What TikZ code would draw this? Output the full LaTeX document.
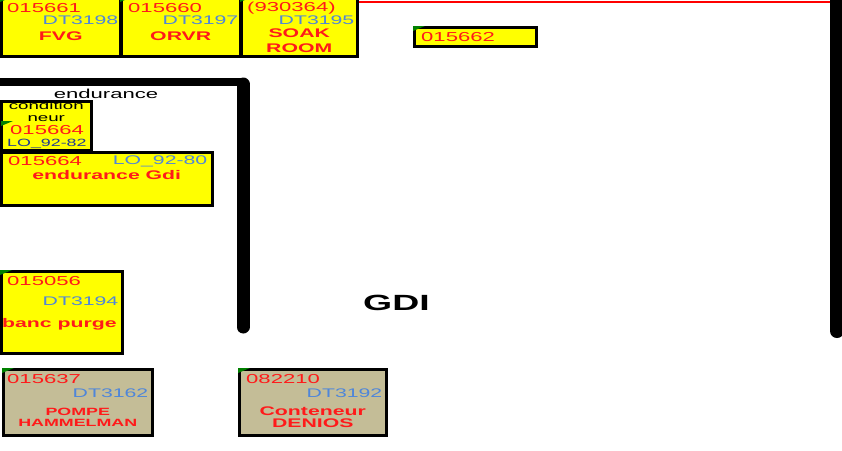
\documentclass[tikz,border=0pt]{standalone}
\usepackage{fontspec}
\setmainfont[FakeStretch=1.7]{Liberation Sans}
\usetikzlibrary{positioning}
\definecolor{planyellow}{HTML}{FFFF00}
\definecolor{plantan}{HTML}{C4BD97}
\definecolor{planred}{HTML}{FF1A1A}
\definecolor{planblue}{HTML}{4F86D9}
\definecolor{plannavy}{HTML}{1F3A93}
\definecolor{plangreen}{HTML}{008000}
\tikzset{
  yellowbox/.style={draw=black, line width=2.5pt, fill=planyellow, anchor=north west, inner sep=0pt},
  tanbox/.style={yellowbox, fill=plantan},
  idnum/.style={inner sep=0pt, text=planred, font=\fontsize{13}{14}\selectfont},
  dtnum/.style={inner sep=0pt, text=planblue, font=\fontsize{12.5}{14}\selectfont},
  boxtitle/.style={inner sep=0pt, text=planred, font=\bfseries\fontsize{12.5}{14.5}\selectfont, align=center},
  wall/.style={line width=8pt, line cap=round},
}
\newcommand\flag[1]{\fill[plangreen] (#1.north west) -- ++(12,0) -- ++(-12,5) -- cycle;}

\begin{document}
\begin{tikzpicture}[x=1pt, y=-1pt]
		\clip (0,0) rectangle (842,450);
		% top row
		\node[yellowbox, minimum width=119pt, minimum height=58pt] (fvg) at (0,-3) {};
		\node[yellowbox, minimum width=119pt, minimum height=58pt] (orvr) at (120,-3) {};
		\node[yellowbox, minimum width=116pt, minimum height=58pt] (soak) at (240,-3) {};
		\node[yellowbox, minimum width=122pt, minimum height=19pt] (f662) at (413,26) {};
		\flag{fvg} \flag{orvr} \flag{soak} \flag{f662}
		\node[idnum, below right=6pt and 7pt of fvg.north west] (fvgnum) {015661};
		\node[dtnum, below left=19pt and 3pt of fvg.north east] (fvgdt) {DT3198};
		\node[boxtitle, below=35pt of fvg.north] (fvgname) {FVG};
		\node[idnum, below right=6pt and 8pt of orvr.north west] (orvrnum) {015660};
		\node[dtnum, below left=19pt and 3pt of orvr.north east] (orvrdt) {DT3197};
		\node[boxtitle, below=35pt of orvr.north] (orvrname) {ORVR};
		\node[idnum, below right=5pt and 7pt of soak.north west] (soaknum) {(930364)};
		\node[dtnum, below left=19pt and 4pt of soak.north east] (soakdt) {DT3195};
		\node[boxtitle, below=32pt of soak.north] (soakname) {SOAK\\ROOM};
		\node[idnum, below right=6pt and 8pt of f662.north west] (f662num) {015662};
		\draw[red, line width=2pt] (soak.north east |- 0,1.5) -- (830,1.5);
		% walls
		\coordinate (corner) at (243,82);
		\draw[wall] (-10,82) -- (corner);
		\draw[wall, line width=13pt] (243,84) -- (243,327);
		\draw[wall, line width=14pt] (837,-20) -- (837,331);
		\node[inner sep=0pt, anchor=north, font=\fontsize{13}{15}\selectfont] (endlabel) at (106,89) {endurance};
		% endurance
		\node[yellowbox, minimum width=90pt, minimum height=49pt] (cond) at (0,100) {};
		\fill[plangreen] (1,121) -- ++(12,0) -- ++(-12,5) -- cycle;
		\node[inner sep=0pt, below=1pt of cond.north, font=\fontsize{11}{13}\selectfont] (condtxt) {condition};
		\node[inner sep=0pt, below=15pt of cond.north, font=\fontsize{11}{13}\selectfont] (neurtxt) {neur};
		\node[idnum, below right=25pt and 10pt of cond.north west] (condnum) {015664};
		\node[dtnum, text=plannavy, font=\fontsize{10.5}{12}\selectfont, below right=39pt and 7pt of cond.north west] (conddt) {LO\_92-82};
		\node[yellowbox, minimum width=211pt, minimum height=53pt] (endgdi) at (0,151) {};
		\node[idnum, below right=5pt and 8pt of endgdi.north west] (endnum) {015664};
		\node[dtnum, below left=5pt and 6pt of endgdi.north east] (enddt) {LO\_92-80};
		\node[boxtitle, below=19pt of endgdi.north] (endname) {endurance Gdi};
		% banc purge
		\node[yellowbox, minimum width=121pt, minimum height=82pt] (banc) at (0,270) {};
		\flag{banc}
		\node[idnum, below right=6pt and 7pt of banc.north west] (bancnum) {015056};
		\node[dtnum, below left=27pt and 5pt of banc.north east] (bancdt) {DT3194};
		\node[boxtitle, below right=48pt and 2pt of banc.north west] (bancname) {banc purge};
		% bottom row
		\node[tanbox, minimum width=149pt, minimum height=66pt] (pompe) at (2,368) {};
		\node[tanbox, minimum width=147pt, minimum height=66pt] (denios) at (238,368) {};
		\flag{pompe} \flag{denios}
		\node[idnum, below right=6pt and 5pt of pompe.north west] (pompenum) {015637};
		\node[dtnum, below left=21pt and 5pt of pompe.north east] (pompedt) {DT3162};
		\node[boxtitle, font=\bfseries\fontsize{10.5}{11}\selectfont, below=40pt of pompe.north] (pompename) {POMPE\\HAMMELMAN};
		\node[idnum, below right=6pt and 8pt of denios.north west] (deniosnum) {082210};
		\node[dtnum, below left=21pt and 5pt of denios.north east] (deniosdt) {DT3192};
		\node[boxtitle, font=\bfseries\fontsize{12.5}{12}\selectfont, below=39pt of denios.north] (deniosname) {Conteneur\\DENIOS};
		\node[inner sep=0pt, anchor=north west, font=\bfseries\fontsize{22}{24}\selectfont] (gdi) at (363,295) {GDI};
\end{tikzpicture}
\end{document}
